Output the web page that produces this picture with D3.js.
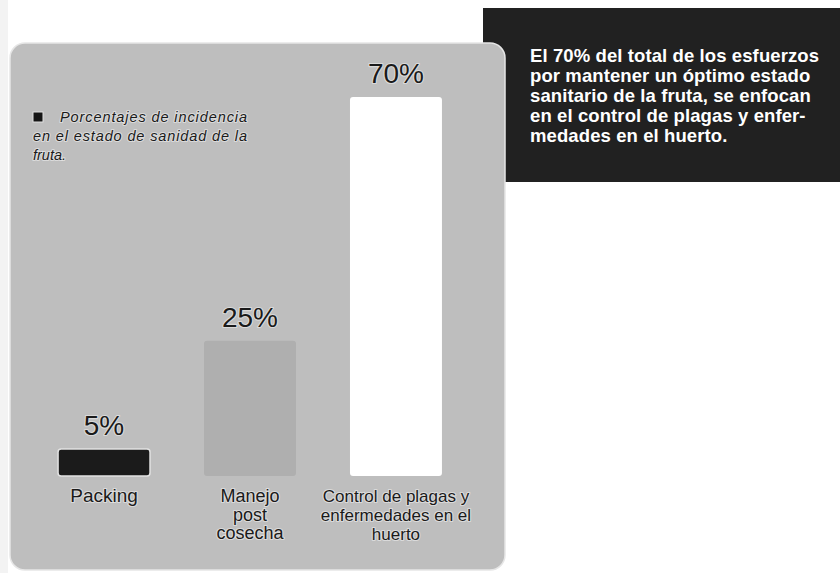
<!DOCTYPE html>
<html>
<head>
<meta charset="utf-8">
<script src="https://cdn.jsdelivr.net/npm/d3@7"></script>
<style>
  html, body { margin: 0; padding: 0; background: #fff; }
  svg { display: block; font-family: "Liberation Sans", Arial, sans-serif; }
</style>
</head>
<body>
<svg id="chart" width="840" height="573"></svg>
<script>
// datos
const categories = ["Packing", "Manejo post cosecha", "Control de plagas y enfermedades en el huerto"];
const categoryLines = [["Packing"], ["Manejo", "post", "cosecha"], ["Control de plagas y", "enfermedades en el", "huerto"]];
const values = [5, 25, 70];
const barColors = ["#1b1b1b", "#afafaf", "#ffffff"];
const legendLines = ["Porcentajes de incidencia", "en el estado de sanidad de la", "fruta."];
const noteLines = [
  "El 70% del total de los esfuerzos",
  "por mantener un óptimo estado",
  "sanitario de la fruta, se enfocan",
  "en el control de plagas y enfer-",
  "medades en el huerto."
];

const W = 840, H = 573;
const baseline = 476;
const catFont = [19, 18, 17];
const catLead = [19, 18.5, 19];

const svg = d3.select("#chart");

// franja gris a la izquierda
svg.append("rect").attr("x", 0).attr("y", 0).attr("width", 8).attr("height", H).attr("fill", "#f3f3f3");

// caja negra con nota
svg.append("rect")
  .attr("x", 483).attr("y", 8).attr("width", W - 483).attr("height", 174)
  .attr("fill", "#212121");

svg.append("g")
  .selectAll("text")
  .data(noteLines)
  .join("text")
  .attr("x", 530)
  .attr("y", (d, i) => 62 + i * 20)
  .attr("fill", "#fff")
  .attr("font-size", "18.5px")
  .attr("font-weight", "bold")
  .attr("letter-spacing", "0.1")
  .text(d => d);

// panel gris
svg.append("rect")
  .attr("x", 10).attr("y", 43).attr("width", 495).attr("height", 527)
  .attr("rx", 15).attr("ry", 15)
  .attr("fill", "#bebebe")
  .attr("stroke", "#e6e6e6").attr("stroke-width", 1.5);

// escalas
const x = d3.scaleBand()
  .domain(categories)
  .range([22, 478])
  .paddingInner(0.37)
  .paddingOuter(0.247);

const y = d3.scaleLinear()
  .domain([0, 70])
  .range([baseline, 97]);

const halo = g => g.attr("stroke", "rgba(255,255,255,0.45)").attr("stroke-width", 2.2)
  .attr("paint-order", "stroke").attr("stroke-linejoin", "round");

// barras
svg.append("g")
  .selectAll("rect")
  .data(values)
  .join("rect")
  .attr("x", (d, i) => x(categories[i]))
  .attr("y", d => y(d))
  .attr("width", x.bandwidth())
  .attr("height", d => baseline - y(d))
  .attr("rx", 3).attr("ry", 3)
  .attr("fill", (d, i) => barColors[i])
  .attr("stroke", (d, i) => i === 0 ? "#e2e2e2" : "none")
  .attr("stroke-width", 1.5);

// etiquetas de valor
svg.append("g")
  .selectAll("text")
  .data(values)
  .join("text")
  .attr("x", (d, i) => x(categories[i]) + x.bandwidth() / 2)
  .attr("y", d => y(d) - 14)
  .attr("text-anchor", "middle")
  .attr("font-size", "28px")
  .attr("fill", "#1a1a1a")
  .call(halo)
  .text(d => d + "%");

// etiquetas de categoría
const catG = svg.append("g")
  .selectAll("text")
  .data(categoryLines)
  .join("text")
  .attr("x", (d, i) => x(categories[i]) + x.bandwidth() / 2)
  .attr("y", 502)
  .attr("text-anchor", "middle")
  .attr("fill", "#1a1a1a")
  .attr("font-size", (d, i) => catFont[i] + "px")
  .call(halo);

catG.selectAll("tspan")
  .data((d, i) => d.map(t => ({ t, i })))
  .join("tspan")
  .attr("x", function () { return this.parentNode.getAttribute("x"); })
  .attr("dy", (d, j) => j === 0 ? 0 : catLead[d.i])
  .text(d => d.t);

// leyenda
svg.append("rect")
  .attr("x", 33).attr("y", 112).attr("width", 10).attr("height", 10)
  .attr("fill", "#151515").attr("stroke", "#e0e0e0").attr("stroke-width", 1);

const legendX = [60, 33, 33];
const legendLen = [187, 214, null];
svg.append("g")
  .selectAll("text")
  .data(legendLines)
  .join("text")
  .attr("x", (d, i) => legendX[i])
  .attr("y", (d, i) => 122 + i * 19)
  .attr("font-size", "14.5px")
  .attr("font-style", "italic")
  .attr("fill", "#1a1a1a")
  .each(function (d, i) { if (legendLen[i]) d3.select(this).attr("textLength", legendLen[i]).attr("lengthAdjust", "spacing"); })
  .call(halo)
  .text(d => d);
</script>
</body>
</html>
